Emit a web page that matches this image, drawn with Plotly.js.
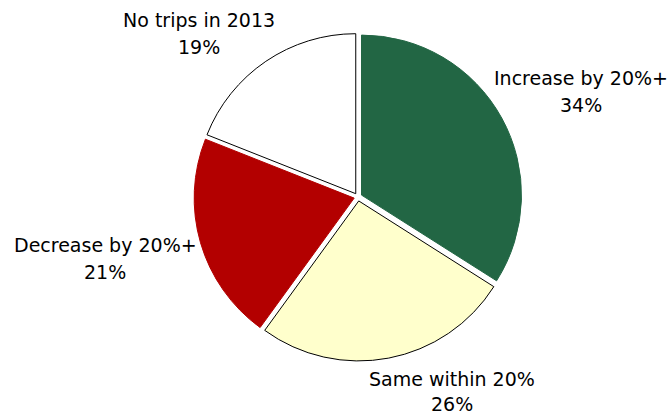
<!DOCTYPE html>
<html>
<head>
<meta charset="utf-8">
<script src="https://cdn.plot.ly/plotly-3.0.1.min.js"></script>
<style>html,body{margin:0;padding:0;background:#fff;}#chart{width:668px;height:415px;}</style>
</head>
<body>
<div id="chart"></div>
<script>
var categories = ["Increase by 20%+", "Same within 20%", "Decrease by 20%+", "No trips in 2013"];
var shares = [34, 26, 21, 19];
var sliceColors = ["#226644", "#FFFFCC", "#B30000", "#FFFFFF"];
var edgeColors = ["#226644", "#000000", "#B30000", "#000000"];

var W = 668, H = 415;
// label placement (pixel centres of the two text lines) per category
var labelPos = [
  {x: 581, y1: 78, y2: 105},
  {x: 452, y1: 379, y2: 404},
  {x: 105, y1: 245, y2: 272},
  {x: 199, y1: 20, y2: 47}
];

var total = shares.reduce(function (a, b) { return a + b; }, 0);

var trace = {
  type: "pie",
  labels: categories,
  values: shares,
  sort: false,
  direction: "clockwise",
  rotation: 0,
  pull: 0.025,
  domain: {x: [194 / W, 522 / W], y: [(H - 361) / H, (H - 33) / H]},
  marker: {colors: sliceColors, line: {color: edgeColors, width: 1}},
  textinfo: "none",
  hoverinfo: "none",
  showlegend: false
};

var annotations = [];
categories.forEach(function (c, i) {
  var p = labelPos[i];
  var pct = Math.round(shares[i] / total * 100) + "%";
  annotations.push({xref: "paper", yref: "paper", x: p.x / W, y: 1 - p.y1 / H,
    xanchor: "center", yanchor: "middle", showarrow: false, text: c});
  annotations.push({xref: "paper", yref: "paper", x: p.x / W, y: 1 - p.y2 / H,
    xanchor: "center", yanchor: "middle", showarrow: false, text: pct});
});

var layout = {
  width: W, height: H,
  margin: {l: 0, r: 0, t: 0, b: 0},
  paper_bgcolor: "#fff",
  plot_bgcolor: "#fff",
  font: {family: "DejaVu Sans", size: 19, color: "#000"},
  annotations: annotations,
  showlegend: false
};

Plotly.newPlot("chart", [trace], layout, {displayModeBar: false, staticPlot: true});
</script>
</body>
</html>
